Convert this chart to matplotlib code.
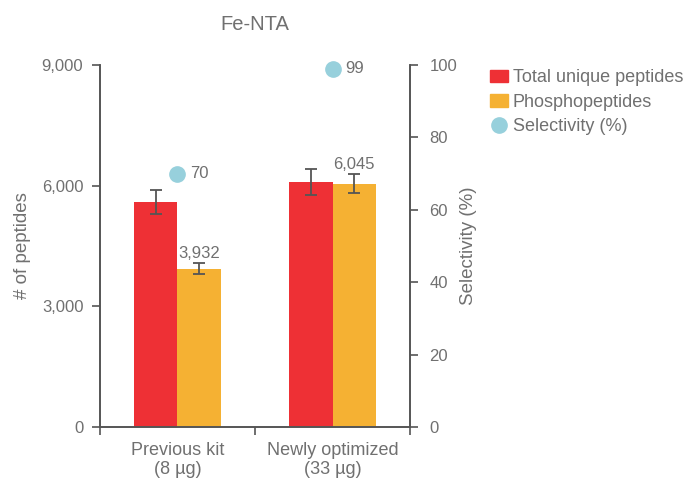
import matplotlib.pyplot as plt
from matplotlib.patches import Patch
from matplotlib.lines import Line2D

plt.rcParams['font.family'] = ['Liberation Sans', 'DejaVu Sans']

categories = ['Previous kit\n(8 µg)', 'Newly optimized\n(33 µg)']
total_unique = [5600, 6100]
total_err = [300, 320]
phospho = [3932, 6045]
phospho_err = [140, 235]
selectivity = [70, 99]

red = '#ee3035'
orange = '#f5b133'
teal = '#97d0dc'
grey = '#707070'
axis_grey = '#555555'

fig = plt.figure(figsize=(6.92, 4.79), dpi=100)
ax = fig.add_axes([0.1445, 0.1086, 0.448, 0.7557])
ax2 = ax.twinx()

x = list(range(len(categories)))
w = 0.28
ax.bar([i - w / 2 for i in x], total_unique, w, color=red, zorder=2)
ax.bar([i + w / 2 for i in x], phospho, w, color=orange, zorder=2)
ax.errorbar([i - w / 2 for i in x], total_unique, yerr=total_err, fmt='none',
            ecolor=axis_grey, elinewidth=1.3, capsize=4, capthick=1.3, zorder=3)
ax.errorbar([i + w / 2 for i in x], phospho, yerr=phospho_err, fmt='none',
            ecolor=axis_grey, elinewidth=1.3, capsize=4, capthick=1.3, zorder=3)
for i, v in enumerate(phospho):
    ax.text(i + w / 2, v + phospho_err[i] + 60, f'{v:,}', ha='center', va='bottom',
            fontsize=12, color=grey)

ax2.plot(x, selectivity, 'o', color=teal, markersize=11, zorder=4, clip_on=False)
for i, v in enumerate(selectivity):
    ax2.text(i + 0.08, v, str(v), ha='left', va='center', fontsize=12, color=grey)

ax.set_xlim(-0.5, 1.5)
ax.set_ylim(0, 9000)
ax2.set_ylim(0, 100)
ax.set_yticks([0, 3000, 6000, 9000])
ax.set_yticklabels(['0', '3,000', '6,000', '9,000'])
ax2.set_yticks([0, 20, 40, 60, 80, 100])
ax.set_xticks(x)
ax.set_xticklabels(categories, linespacing=1.1)
ax.set_xticks([-0.5, 0.5, 1.5], minor=True)
ax.tick_params(axis='x', which='major', length=0, pad=11, labelsize=13, labelcolor=grey)
ax.tick_params(axis='x', which='minor', length=6, width=1.2, color=axis_grey, direction='out')
ax.tick_params(axis='y', length=6, width=1.2, color=axis_grey, labelsize=12,
               labelcolor=grey, pad=6)
ax2.tick_params(axis='y', length=6, width=1.2, color=axis_grey, labelsize=12,
                labelcolor=grey, pad=8)

for a in (ax, ax2):
    a.spines['top'].set_visible(False)
    for s in ('left', 'right', 'bottom'):
        a.spines[s].set_color(axis_grey)
        a.spines[s].set_linewidth(1.2)

ax.set_ylabel('# of peptides', fontsize=13.5, color=grey, labelpad=8)
ax2.set_ylabel('Selectivity (%)', fontsize=13.5, color=grey, labelpad=2)
ax.set_title('Fe-NTA', fontsize=14.5, color=grey, pad=25)

handles = [
    Patch(color=red, label='Total unique peptides'),
    Patch(color=orange, label='Phosphopeptides'),
    Line2D([], [], marker='o', linestyle='none', color=teal, markersize=11,
           label='Selectivity (%)'),
]
fig.legend(handles=handles, loc='upper left', bbox_to_anchor=(0.708, 0.855),
           frameon=False, fontsize=13, labelcolor=grey, handlelength=1.0,
           handletextpad=0.25, labelspacing=0.4, borderaxespad=0, borderpad=0)

fig.savefig('out.png', dpi=100)
